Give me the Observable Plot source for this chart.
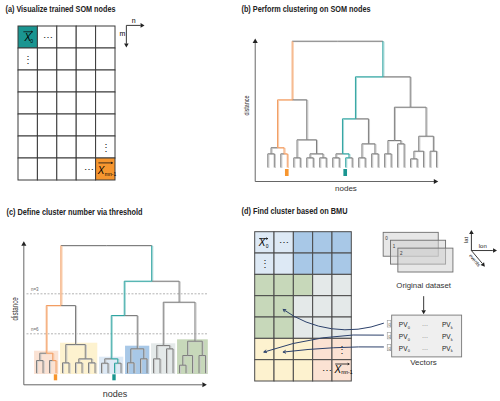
<!DOCTYPE html>
<html><head><meta charset="utf-8">
<script src="https://cdn.jsdelivr.net/npm/d3@7"></script>
<script src="https://cdn.jsdelivr.net/npm/@observablehq/plot@0.6"></script>
<style>
body{margin:0;background:#fff;}
#fig{position:relative;width:500px;height:401px;overflow:hidden;background:#fff;}
#fig svg{position:absolute;}
</style></head><body><div id="fig"></div>
<script>
// ---------------- data ----------------
const titles = ["(a) Visualize trained SOM nodes", "(b) Perform clustering on SOM nodes",
                "(c) Define cluster number via threshold", "(d) Find cluster based on BMU"];
const somRows = d3.range(7);
const somCols = d3.range(5);
const ellipses = [{row:0,col:1,t:"⋯"},{row:1,col:0,t:"⋮"},{row:5,col:4,t:"⋮"},{row:6,col:3,t:"⋯"}];
const nodeLabels = [{row:0,col:0,sub:"0"},{row:6,col:4,sub:"mn-1"}];
const leaves = d3.range(27);
const orangeLeaf = 3, tealLeaf = 12;
const merges = [
  ["A",0,1],["B",2,3],["AB","A","B"],
  ["C",4,5],["D",6,7],["E",8,9],["DE","D","E"],["CDE","C","DE"],
  ["left","AB","CDE"],
  ["F",10,11],["G",12,13],["FG","F","G"],
  ["H1",14,15],["H2",16,17],["H","H1","H2"],["FGH","FG","H"],
  ["I",18,19],["J",20,21],["IJ","I","J"],
  ["K",22,23],["KL","K",24],["M",25,26],["KLM","KL","M"],
  ["R","IJ","KLM"],["right","FGH","R"],["root","left","right"]
];
const heightsB = [13.7,13.7,19.8, 9.7,9.7,9.7,13.7,27.7, 67.7, 9.7,9.7,13.7, 9.7,13.7,23.7,48.7, 13.7,23.7,27, 8.7,16.3,16.3,31.3, 60.3,90.7,126.3];
const heightsC = [12.7,12.7,20, 10.4,10.4,10.4,14.4,28.7, 67.7, 10,10,14.4, 10.4,14.4,24.4,57.7, 14.4,24.4,27.7, 8,17.7,17.7,32, 71,92,127.7];
const clusterColors = ["#fbe2d3","#fdf2cf","#dde9f5","#a8c8e7","#e4e9e9","#c7d8ba"];
const clustersC = [{first:0,last:3,top:22},{first:4,last:9,top:30},{first:10,last:13,top:16},
                   {first:14,last:17,top:27},{first:18,last:21,top:29.4},{first:22,last:26,top:33.4}];
const thresholds = [{label:"n=3", d:79.4},{label:"n=6", d:39.4}];
const bmuClusters = [[2,2,3,3,3],[2,2,3,3,3],[5,5,5,4,4],[5,5,4,4,4],[5,5,4,4,4],[1,1,1,0,0],[1,1,1,0,0]];
const datasetLayers = ["0","1","2"];
const vectorIds = [0,1,2];
const pvColumns = [{label:"PV",sub:"0"},{label:"⋯",sub:""},{label:"PV",sub:"k"}];
const bmuTargets = [{row:3,col:1},{row:5,col:0},{row:5,col:1}];

// ---------------- style ----------------
const teal = "#1a9591", orange = "#f7962f";
const lineMain = {gray:"#7f7f7f", orange:"#f29d63", teal:"#2fa4a1"};
const lineTwin = {gray:"#c9c9c9", orange:"#f9c9a5", teal:"#a3d7d5"};
const FONT = "'Liberation Sans', Arial, sans-serif";
const baseStyle = {background:"transparent", overflow:"visible", fontFamily:FONT};
const fig = document.getElementById("fig");

function place(svg, left, top, widths) {
  svg.style.left = left + "px"; svg.style.top = top + "px";
  fig.appendChild(svg);
  svg.querySelectorAll("text").forEach(t => {
    const w = widths[t.textContent];
    if (w) { t.setAttribute("textLength", w); t.setAttribute("lengthAdjust", "spacingAndGlyphs"); }
  });
}

function dendro(heights) {
  const pos = new Map();
  leaves.forEach(i => pos.set(i, {x:i, h:0, leaves:[i]}));
  const colOf = n => n.leaves.includes(orangeLeaf) ? "orange" : n.leaves.includes(tealLeaf) ? "teal" : "gray";
  const segs = [];
  merges.forEach(([name,a,b], k) => {
    const A = pos.get(a), B = pos.get(b), h = heights[k], x = (A.x + B.x) / 2;
    const isRoot = k === merges.length - 1;
    segs.push({x1:A.x, y1:A.h, x2:A.x, y2:h, c:colOf(A)});
    segs.push({x1:B.x, y1:B.h, x2:B.x, y2:h, c:colOf(B)});
    segs.push({x1:A.x, y1:h, x2:x, y2:h, c:isRoot ? "gray" : colOf(A)});
    segs.push({x1:x, y1:h, x2:B.x, y2:h, c:isRoot ? "gray" : colOf(B)});
    pos.set(name, {x, h, leaves:A.leaves.concat(B.leaves)});
  });
  return segs.sort((p,q) => (p.c !== "gray") - (q.c !== "gray"));
}
function dendroMarks(heights) {
  const segs = dendro(heights);
  return [
    Plot.link(segs, {x1:"x1", y1:"y1", x2:"x2", y2:"y2", stroke:d => lineTwin[d.c], strokeWidth:1, dx:1.1, dy:0.5}),
    Plot.link(segs, {x1:"x1", y1:"y1", x2:"x2", y2:"y2", stroke:d => lineMain[d.c], strokeWidth:1})
  ];
}
const markers = [{leaf:orangeLeaf, color:orange},{leaf:tealLeaf, color:teal}];
function head(x, y, rotate, r = 1.9) {
  return Plot.dot([0], {x, y, symbol:"triangle", r, rotate, fill:"#222"});
}
function vectorLabelMarks(fr) {
  return nodeLabels.flatMap((d, i) => {
    const f = fr[i];
    return [
      Plot.text([d], {x:c => c.col + f.x, y:c => c.row + f.y, text:() => "X", fontStyle:"italic", fontSize:10}),
      Plot.text([d], {x:c => c.col + f.sx, y:c => c.row + f.sy, text:"sub", fontSize:5, textAnchor:"start"}),
      Plot.arrow([d], {x1:c => c.col + f.a1, x2:c => c.col + f.a2, y1:c => c.row + f.ay, y2:c => c.row + f.ay,
                       headLength:2.5, strokeWidth:0.8, stroke:"#111"})
    ];
  });
}

// ---------------- (a) ----------------
{
  const cells = d3.cross(somRows, somCols, (row, col) => ({row, col}));
  const svg = Plot.plot({
    width:250, height:200, marginLeft:18, marginRight:135, marginTop:26, marginBottom:20,
    x:{domain:[0,5], axis:null}, y:{domain:[0,7], reverse:true, axis:null}, style:baseStyle,
    marks:[
      Plot.rect(cells, {x1:"col", x2:d => d.col + 1, y1:"row", y2:d => d.row + 1,
        fill:d => d.row === 0 && d.col === 0 ? teal : d.row === 6 && d.col === 4 ? orange : "white",
        stroke:"#3a3a3a", strokeWidth:1}),
      Plot.text(ellipses, {x:d => d.col + 0.5 + (d.t === "⋯" && d.row > 0 ? 0.15 : 0), y:d => d.row + 0.5, text:"t", fontSize:10, fill:"#222"}),
      ...vectorLabelMarks([
        {x:0.48, y:0.52, sx:0.6, sy:0.68, a1:0.27, a2:0.72, ay:0.24},
        {x:0.26, y:0.55, sx:0.45, sy:0.7, a1:0.14, a2:0.84, ay:0.2}
      ]),
      Plot.link([0], {x1:5.56, y1:-0.05, x2:6.3, y2:-0.05, stroke:"#222", strokeWidth:0.9}),
      head(6.36, -0.05, 90, 1.7),
      Plot.link([0], {x1:5.56, y1:-0.05, x2:5.56, y2:0.78, stroke:"#222", strokeWidth:0.9}),
      head(5.56, 0.83, 180, 1.7),
      Plot.text(["n"], {x:5.94, y:-0.27, fontSize:7}),
      Plot.text(["m"], {x:5.36, y:0.33, fontSize:7}),
      Plot.text([titles[0]], {frameAnchor:"top-left", dx:-13, dy:-17, textAnchor:"start", lineAnchor:"middle", fontWeight:"bold", fontSize:8.5, fill:"#222"})
    ]
  });
  place(svg, 0, 0, {[titles[0]]:110});
}

// ---------------- (b) ----------------
{
  const svg = Plot.plot({
    width:262, height:200, marginLeft:29.3, marginRight:63.9, marginTop:40.7, marginBottom:33,
    x:{domain:[0,26], axis:null}, y:{domain:[0,126.3], axis:null}, style:baseStyle,
    marks:[
      ...dendroMarks(heightsB),
      Plot.rect(markers, {x1:d => d.leaf - 0.28, x2:d => d.leaf + 0.28, y1:-2, y2:-9, fill:"color"}),
      Plot.link([0], {x1:-1.94, y1:-14, x2:-1.94, y2:124.5, stroke:"#555", strokeWidth:0.9}),
      Plot.link([0], {x1:-1.94, y1:-14, x2:25.6, y2:-14, stroke:"#555", strokeWidth:0.9}),
      head(-1.94, 126, 0), head(25.8, -14, 90),
      Plot.text(["distance"], {x:-3.3, y:62, rotate:-90, fontSize:7, fill:"#333"}),
      Plot.text(["nodes"], {x:12.04, y:-20.7, fontSize:8, fill:"#333"}),
      Plot.text([titles[1]], {frameAnchor:"top-left", dx:-26.3, dy:-32.2, textAnchor:"start", lineAnchor:"middle", fontWeight:"bold", fontSize:8.5, fill:"#222"})
    ]
  });
  place(svg, 238, 0, {[titles[1]]:129, "distance":20});
}

// ---------------- (c) ----------------
{
  const svg = Plot.plot({
    width:250, height:201, marginLeft:36, marginRight:45, marginTop:45, marginBottom:28.3,
    x:{domain:[0,26], axis:null}, y:{domain:[0,127.7], axis:null}, style:baseStyle,
    marks:[
      Plot.rect(clustersC, {x1:d => d.first - 0.3, x2:d => d.last + 0.43, y1:-1.3, y2:"top", fill:(d, i) => clusterColors[i]}),
      Plot.link(thresholds, {x1:-1.54, x2:26.46, y1:"d", y2:"d", stroke:"#a0a0a0", strokeWidth:0.8, strokeDasharray:"2,1.5"}),
      Plot.text(thresholds, {x:-0.85, y:d => d.d + 4, text:"label", fontSize:4.5, fill:"#666", textAnchor:"start"}),
      ...dendroMarks(heightsC),
      Plot.rect(markers, {x1:d => d.leaf - 0.26, x2:d => d.leaf + 0.26, y1:-1.6, y2:-7.6, fill:"color"}),
      Plot.link([0], {x1:-1.95, y1:-11.6, x2:-1.95, y2:127.5, stroke:"#555", strokeWidth:0.9}),
      Plot.link([0], {x1:-1.95, y1:-11.6, x2:25.5, y2:-11.6, stroke:"#555", strokeWidth:0.9}),
      head(-1.95, 129, 0), head(25.75, -11.6, 90),
      Plot.text(["distance"], {x:-3.23, y:64.4, rotate:-90, fontSize:8.5, fill:"#333"}),
      Plot.text(["nodes"], {x:12.08, y:-20.6, fontSize:9, fill:"#333"}),
      Plot.text([titles[2]], {frameAnchor:"top-left", dx:-30, dy:-33.3, textAnchor:"start", lineAnchor:"middle", fontWeight:"bold", fontSize:8.5, fill:"#222"})
    ]
  });
  place(svg, 0, 200, {[titles[2]]:136, "distance":23.3});
}

// ---------------- (d) ----------------
{
  const cells = d3.cross(somRows, somCols, (row, col) => ({row, col, cluster:bmuClusters[row][col]}));
  const rowPos = i => 4.37 + 0.555 * i;
  const pvCells = d3.cross(vectorIds, d3.range(pvColumns.length), (i, j) => ({i, j, ...pvColumns[j]}));
  const bends = [28, -11, -4];
  const svg = Plot.plot({
    width:262, height:201, marginLeft:16.7, marginRight:148.7, marginTop:31.7, marginBottom:20,
    x:{domain:[0,5], axis:null}, y:{domain:[0,7], reverse:true, axis:null}, style:baseStyle,
    marks:[
      Plot.rect(cells, {x1:"col", x2:d => d.col + 1, y1:"row", y2:d => d.row + 1,
        fill:d => clusterColors[d.cluster], stroke:"#4a4a4a", strokeWidth:1}),
      Plot.text(ellipses, {x:d => d.col + 0.5 + (d.t === "⋯" && d.row > 0 ? 0.2 : 0), y:d => d.row + 0.5, text:"t", fontSize:10, fill:"#222"}),
      ...vectorLabelMarks([
        {x:0.36, y:0.5, sx:0.55, sy:0.66, a1:0.22, a2:0.64, ay:0.3},
        {x:0.28, y:0.45, sx:0.45, sy:0.58, a1:0.16, a2:0.86, ay:0.18}
      ]),
      Plot.rect(datasetLayers, {x1:(d, i) => 6.65 + 0.38 * i, x2:(d, i) => 9.5 + 0.38 * i,
        y1:(d, i) => 0.03 + 0.37 * i, y2:(d, i) => 1.15 + 0.37 * i,
        fill:"#cfcfcf", fillOpacity:0.5, stroke:"#6e6e6e", strokeWidth:0.9}),
      Plot.text(datasetLayers, {x:(d, i) => 6.8 + 0.38 * i, y:(d, i) => 0.28 + 0.37 * i, text:d => d, fontSize:4.5, fill:"#333"}),
      Plot.link([0], {x1:11.19, y1:0.86, x2:11.19, y2:0.08, stroke:"#222", strokeWidth:0.9}),
      Plot.link([0], {x1:11.19, y1:0.86, x2:12.3, y2:0.86, stroke:"#222", strokeWidth:0.9}),
      Plot.link([0], {x1:11.19, y1:0.86, x2:11.75, y2:1.46, stroke:"#222", strokeWidth:0.9}),
      head(11.19, 0.02, 0, 1.7), head(12.38, 0.86, 90, 1.7), head(11.8, 1.52, 140, 1.7),
      Plot.text(["lat"], {x:10.92, y:0.36, rotate:-90, fontSize:6, fill:"#222"}),
      Plot.text(["lon"], {x:11.78, y:0.64, fontSize:6, fill:"#222"}),
      Plot.text(["events"], {x:11.36, y:1.32, rotate:50, fontSize:5, fill:"#222"}),
      Plot.text(["Original dataset"], {x:8.72, y:2.5, fontSize:7.8, fill:"#333"}),
      Plot.link([0], {x1:8.72, y1:3.0, x2:8.72, y2:3.66, stroke:"#222", strokeWidth:0.9}),
      head(8.72, 3.72, 180, 1.7),
      Plot.rect([0], {x1:7.09, x2:10.71, y1:3.91, y2:5.87, fill:"#efefef", stroke:"#777", strokeWidth:0.9}),
      Plot.text(pvCells, {x:d => 7.66 + 1.115 * d.j, y:d => rowPos(d.i), text:"label",
        fontSize:d => d.sub ? 6.5 : 6, fill:d => d.sub ? "#222" : "#999"}),
      Plot.text(pvCells.filter(d => d.sub), {x:d => 7.66 + 1.115 * d.j + 0.23, y:d => rowPos(d.i) + 0.1, text:"sub", fontSize:4, textAnchor:"start", fill:"#222"}),
      Plot.rect(vectorIds, {x1:6.86, x2:7.05, y1:d => rowPos(d) - 0.2, y2:d => rowPos(d) + 0.1, fill:"white", stroke:"#999", strokeWidth:0.6}),
      Plot.text(vectorIds, {x:6.95, y:d => rowPos(d) - 0.04, text:() => "q", fontSize:4.5, fill:"#777"}),
      Plot.text(["Vectors"], {x:8.71, y:6.12, fontSize:8, fill:"#333"}),
      ...bmuTargets.map((t, i) => Plot.arrow([t], {x1:6.64, y1:rowPos(i) - 0.1, x2:d => d.col + 0.45, y2:d => d.row + 0.62,
        bend:bends[i], headLength:4, stroke:"#2c416b", strokeWidth:1})),
      Plot.text([titles[3]], {frameAnchor:"top-left", dx:-13.7, dy:-20.7, textAnchor:"start", lineAnchor:"middle", fontWeight:"bold", fontSize:8.5, fill:"#222"})
    ]
  });
  place(svg, 238, 200, {[titles[3]]:106});
}
</script></body></html>
